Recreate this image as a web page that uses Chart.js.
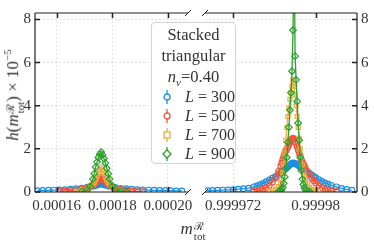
<!DOCTYPE html>
<html>
<head>
<meta charset="utf-8">
<script src="https://cdn.jsdelivr.net/npm/chart.js@4.4.1/dist/chart.umd.min.js"></script>
<style>
  body { margin: 0; background: #fff; }
  #wrap { position: relative; width: 374px; height: 247px; font-family: "Liberation Serif", serif; color: #333; }
  canvas { position: absolute; left: 0; top: 0; }
  #legend { position: absolute; left: 151px; top: 22px; width: 85px; height: 142px; border: 1px solid #d4d4d4;
            border-radius: 4px; background: rgba(255,255,255,0.85); box-sizing: border-box; }
  #legend .t { position: absolute; left: 0; width: 100%; text-align: center; font-size: 16.5px; line-height: 20px; }
  #legend .e { position: absolute; left: 8px; font-size: 16px; line-height: 19px; white-space: nowrap; }
  #legend .e svg { vertical-align: -2px; margin-right: 11px; }
  #ylab { position: absolute; left: 13px; top: 95px; transform: translate(-50%, -50%) rotate(-90deg);
          white-space: nowrap; font-size: 17px; }
  #xlab { position: absolute; left: 193px; top: 230px; transform: translate(-50%, -50%); white-space: nowrap; font-size: 17px; }
  .ss { display: inline-block; vertical-align: -6px; font-size: 11px; line-height: 10px; text-align: left; margin-left: 1px; }
  .ss span { display: block; }
  sup { font-size: 11px; }
</style>
</head>
<body>
<div id="wrap">
  <canvas id="left" width="374" height="247" style="width:374px;height:247px"></canvas>
  <canvas id="right" width="374" height="247" style="width:374px;height:247px"></canvas>
  <div id="legend"></div>
  <div id="ylab"><i>h</i>(<i>m</i><span class="ss"><span>ℛ</span><span>tot</span></span>) × 10<sup>−5</sup></div>
  <div id="xlab"><i>m</i><span class="ss"><span>ℛ</span><span>tot</span></span></div>
</div>
<script>
// series
var seriesSizes = [300, 500, 700, 900]
var colourList = ['#1c8fe0', '#f2543a', '#e8ae42', '#2ca02c']
var markers = ['circle', 'circle', 'rect', 'rectRot']

// left panel (m around 0.000176)
var leftBins = [0.000153, 0.000155, 0.000157, 0.000159, 0.000161, 0.000163, 0.000165, 0.000167, 0.000169, 0.000171,
    0.000172, 0.000173,
    0.0001735, 0.000174, 0.0001745, 0.000175, 0.0001755, 0.000176, 0.0001765, 0.000177, 0.0001775, 0.000178, 0.0001785, 0.000179,
    0.00018, 0.000181,
    0.000183, 0.000185, 0.000187, 0.000189, 0.000191, 0.000193, 0.000195, 0.000197, 0.000199, 0.000201, 0.000203, 0.000205]

var blueLeft = [0.06, 0.07, 0.08, 0.09, 0.10, 0.11, 0.13, 0.15, 0.18, 0.22,
    0.24, 0.27,
    0.29, 0.31, 0.33, 0.35, 0.37, 0.38, 0.37, 0.35, 0.33, 0.31, 0.29, 0.27,
    0.24, 0.21,
    0.17, 0.15, 0.13, 0.11, 0.10, 0.09, 0.08, 0.07, 0.07, 0.06, 0.05, 0.05]
var redLeft = [null, null, null, null, 0.03, 0.05, 0.07, 0.10, 0.14, 0.20,
    0.25, 0.32,
    0.37, 0.43, 0.50, 0.57, 0.63, 0.68, 0.63, 0.56, 0.49, 0.42, 0.36, 0.31,
    0.24, 0.18,
    0.12, 0.08, 0.05, 0.03, 0.02, null, null, null, null, null, null, null]
var orangeLeft = [null, null, null, null, null, null, null, 0.03, 0.06, 0.12,
    0.20, 0.35,
    0.45, 0.58, 0.72, 0.88, 1.02, 1.15, 1.02, 0.86, 0.70, 0.56, 0.44, 0.34,
    0.20, 0.12,
    0.05, 0.02, null, null, null, null, null, null, null, null, null, null]
var greenLeft = [null, null, null, null, null, null, null, null, 0.03, 0.10,
    0.25, 0.60,
    0.85, 1.15, 1.40, 1.60, 1.75, 1.85, 1.72, 1.55, 1.35, 1.10, 0.85, 0.60,
    0.28, 0.12,
    0.04, 0.02, null, null, null, null, null, null, null, null, null, null]

// right panel (m around 0.9999778)
var rightBins = [0.9999695, 0.99997, 0.9999705, 0.999971, 0.9999715, 0.999972, 0.9999725, 0.999973, 0.9999735, 0.999974,
    0.9999743, 0.9999746, 0.9999749, 0.9999752, 0.9999755, 0.9999758, 0.9999761, 0.9999764,
    0.9999766, 0.9999767, 0.9999768, 0.9999769, 0.999977, 0.9999771, 0.9999772, 0.9999773, 0.9999774, 0.9999775,
    0.9999776, 0.9999777, 0.9999778, 0.9999779, 0.999978, 0.9999781, 0.9999782, 0.9999783, 0.9999784, 0.9999785,
    0.9999786, 0.9999787, 0.9999788, 0.9999789, 0.999979,
    0.9999792, 0.9999794, 0.9999796, 0.9999798, 0.99998,
    0.9999803, 0.9999806, 0.9999809, 0.9999812, 0.9999815,
    0.999982, 0.9999825, 0.999983, 0.9999835]

var blueRight = [0.06, 0.07, 0.08, 0.09, 0.10, 0.11, 0.13, 0.15, 0.18, 0.24,
    0.28, 0.34, 0.40, 0.48, 0.56, 0.64, 0.72, 0.82,
    0.88, 0.92, 0.96, 1.00, 1.05, 1.09, 1.13, 1.18, 1.22, 1.26,
    1.30, 1.33, 1.35, 1.34, 1.32, 1.30, 1.27, 1.24, 1.21, 1.17,
    1.13, 1.10, 1.06, 1.02, 0.98,
    0.92, 0.86, 0.79, 0.72, 0.66,
    0.57, 0.49, 0.42, 0.36, 0.31,
    0.24, 0.17, 0.12, 0.08]
var redRight = [null, null, null, null, null, null, null, null, null, 0.03,
    0.05, 0.08, 0.12, 0.20, 0.30, 0.45, 0.65, 0.95,
    1.20, 1.35, 1.50, 1.65, 1.80, 1.90, 2.00, 2.10, 2.20, 2.30,
    2.40, 2.45, 2.50, 2.45, 2.35, 2.25, 2.10, 1.95, 1.80, 1.65,
    1.50, 1.40, 1.30, 1.20, 1.10,
    0.95, 0.80, 0.65, 0.52, 0.42,
    0.30, 0.20, 0.12, 0.08, 0.05,
    0.03, null, null, null]
var orangeRight = [null, null, null, null, null, null, null, null, null, null,
    null, null, null, null, 0.03, 0.06, 0.12, 0.25,
    0.40, 0.60, 0.90, 1.30, 1.80, 2.40, 3.00, 3.50, 3.90, 4.30,
    4.60, 4.90, 5.20, 4.90, 4.50, 4.00, 3.50, 3.00, 2.50, 2.00,
    1.60, 1.25, 0.95, 0.75, 0.60,
    0.38, 0.22, 0.14, 0.09, 0.05,
    0.03, null, null, null, null,
    null, null, null, null]
var greenRight = [null, null, null, null, null, null, null, null, null, null,
    null, null, null, null, null, null, null, 0.03,
    0.06, 0.12, 0.22, 0.40, 0.70, 1.10, 1.60, 2.30, 3.00, 3.80,
    4.60, 5.60, 7.50, 12.0, 6.30, 5.20, 4.20, 3.20, 2.40, 1.60,
    1.00, 0.60, 0.35, 0.20, 0.10,
    0.05, 0.02, null, null, null,
    null, null, null, null, null,
    null, null, null, null]

// axes
var leftTicks = [0.00016, 0.00018, 0.0002]
var leftTickLabels = ['0.00016', '0.00018', '0.00020']
var rightTicks = [0.999972, 0.99998]
var rightTickLabels = ['0.999972', '0.99998']
var yTicks = [0, 2, 4, 6, 8]

var leftSeries = [blueLeft, redLeft, orangeLeft, greenLeft]
var rightSeries = [blueRight, redRight, orangeRight, greenRight]

function makeDatasets(bins, series) {
    return series.map(function (ys, i) {
        var c = colourList[i]
        return {
            label: 'L = ' + seriesSizes[i],
            data: bins.map(function (x, j) { return { x: x, y: ys[j] } }),
            borderColor: c,
            backgroundColor: 'rgba(255,255,255,0)',
            pointBorderColor: c,
            pointStyle: markers[i],
            pointRadius: markers[i] === 'rectRot' ? 3.3 : 2.8,
            pointBorderWidth: 1.2,
            borderWidth: 1.3,
            order: 4 - i,
            spanGaps: false
        }
    })
}

// spines, inward ticks and break marks
var framePlugin = {
    id: 'frame',
    afterDraw: function (chart, args, opts) {
        var ctx = chart.ctx, a = chart.chartArea, sx = chart.scales.x, sy = chart.scales.y
        var side = opts.side === 'left' ? a.left : a.right
        ctx.save()
        ctx.strokeStyle = '#222'
        ctx.lineWidth = 1.2
        ctx.beginPath()
        ctx.moveTo(a.left, a.top); ctx.lineTo(a.right, a.top)
        ctx.moveTo(a.left, a.bottom); ctx.lineTo(a.right, a.bottom)
        ctx.moveTo(side, a.top); ctx.lineTo(side, a.bottom)
        ctx.stroke()
        ctx.lineWidth = 1.5
        ctx.beginPath()
        sx.ticks.forEach(function (t) {
            var px = Math.round(sx.getPixelForValue(t.value)) + 0.5
            ctx.moveTo(px, a.bottom); ctx.lineTo(px, a.bottom - 5)
            ctx.moveTo(px, a.top); ctx.lineTo(px, a.top + 5)
        })
        var d = opts.side === 'left' ? 5 : -5
        sy.ticks.forEach(function (t) {
            var py = sy.getPixelForValue(t.value)
            ctx.moveTo(side, py); ctx.lineTo(side + d, py)
        })
        ctx.stroke()
        var bx = opts.side === 'left' ? a.right : a.left
        ctx.lineWidth = 1
        ctx.beginPath()
        ;[a.top, a.bottom].forEach(function (y) {
            ctx.moveTo(bx - 3, y + 3); ctx.lineTo(bx + 3, y - 3)
        })
        ctx.stroke()
        ctx.restore()
    }
}

function makeChart(id, side, bins, series, xmin, xmax, ticks, tickLabels) {
    var ctx = document.getElementById(id).getContext('2d')
    return new Chart(ctx, {
        type: 'line',
        data: { datasets: makeDatasets(bins, series) },
        plugins: [framePlugin],
        options: {
            responsive: false,
            animation: false,
            devicePixelRatio: 1,
            layout: { padding: side === 'left' ? { top: 8, right: 186, left: 0, bottom: 0 } : { top: 8, right: 0, left: 205, bottom: 0 } },
            scales: {
                x: {
                    type: 'linear',
                    min: xmin,
                    max: xmax,
                    afterBuildTicks: function (s) { s.ticks = ticks.map(function (v) { return { value: v } }) },
                    afterFit: function (s) { s.height = 55 },
                    grid: { color: '#d9d9d9', lineWidth: 0.8, drawTicks: false },
                    border: { display: false, dash: [2, 2] },
                    ticks: {
                        autoSkip: false, maxRotation: 0, padding: 5, color: '#333',
                        font: { family: 'Liberation Serif', size: 15 },
                        callback: function (v, i) { return tickLabels[i] }
                    }
                },
                y: {
                    position: side,
                    min: 0,
                    max: 8.3,
                    afterBuildTicks: function (s) { s.ticks = yTicks.map(function (v) { return { value: v } }) },
                    afterFit: function (s) { s.width = side === 'left' ? 35 : 17 },
                    grid: { color: '#d9d9d9', lineWidth: 0.8, drawTicks: false },
                    border: { display: false, dash: [2, 2] },
                    ticks: {
                        padding: 4, color: '#333',
                        font: { family: 'Liberation Serif', size: 15 },
                        callback: function (v) { return String(v) }
                    }
                }
            },
            plugins: {
                legend: { display: false },
                tooltip: { enabled: false },
                frame: { side: side }
            }
        }
    })
}

var leftChart = makeChart('left', 'left', leftBins, leftSeries, 0.0001522, 0.0002072, leftTicks, leftTickLabels)
var rightChart = makeChart('right', 'right', rightBins, rightSeries, 0.99996927, 0.999984, rightTicks, rightTickLabels)

// legend box
function markerSvg(i) {
    var c = colourList[i], shape
    if (markers[i] === 'rect') shape = '<rect x="4" y="4" width="6" height="6" fill="#fff" stroke="' + c + '" stroke-width="1.3"/>'
    else if (markers[i] === 'rectRot') shape = '<path d="M7 3 L11 7 L7 11 L3 7 Z" fill="#fff" stroke="' + c + '" stroke-width="1.3"/>'
    else shape = '<circle cx="7" cy="7" r="3" fill="#fff" stroke="' + c + '" stroke-width="1.3"/>'
    return '<svg width="14" height="14"><line x1="7" y1="0" x2="7" y2="14" stroke="' + c + '" stroke-width="1.3"/>' + shape + '</svg>'
}
var html = '<div class="t" style="top:2px">Stacked</div>' +
    '<div class="t" style="top:23px">triangular</div>' +
    '<div class="t" style="top:44px"><i>n</i><sub style="font-size:11px"><i>v</i></sub>=0.40</div>'
seriesSizes.forEach(function (n, i) {
    html += '<div class="e" style="top:' + (64 + i * 19) + 'px">' + markerSvg(i) + '<i>L</i> = ' + n + '</div>'
})
document.getElementById('legend').innerHTML = html
</script>
</body>
</html>
